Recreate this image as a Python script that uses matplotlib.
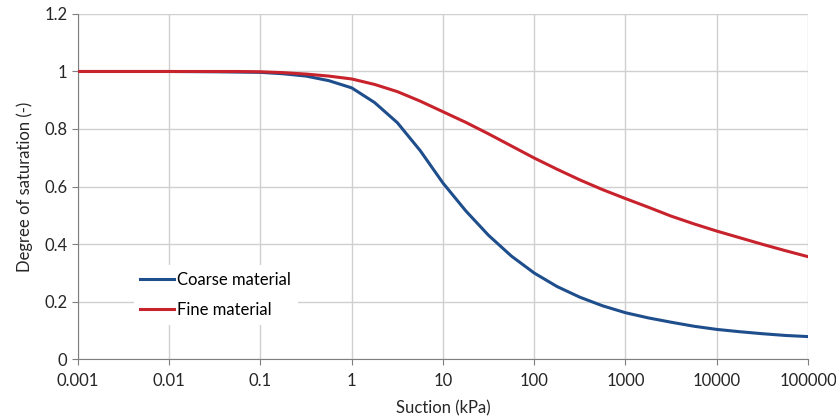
import numpy as np
import matplotlib.pyplot as plt

plt.rcParams["font.family"] = ["Lato", "DejaVu Sans"]

# suction (kPa) and degree of saturation
suction = [0.001, 0.01, 0.0316, 0.0562, 0.1, 0.178, 0.316, 0.562, 1, 1.78, 3.16, 5.62,
           10, 17.8, 31.6, 56.2, 100, 178, 316, 562, 1000, 1778, 3162, 5623,
           10000, 17783, 31623, 56234, 100000]
coarse = [1.0, 1.0, 0.999, 0.998, 0.997, 0.992, 0.984, 0.968, 0.943, 0.892, 0.822, 0.725,
          0.612, 0.515, 0.430, 0.358, 0.299, 0.252, 0.215, 0.185, 0.161, 0.143, 0.128, 0.114,
          0.103, 0.095, 0.088, 0.082, 0.078]
fine = [1.0, 1.0, 1.0, 1.0, 0.999, 0.996, 0.991, 0.984, 0.974, 0.955, 0.930, 0.897,
        0.860, 0.823, 0.783, 0.741, 0.699, 0.660, 0.623, 0.589, 0.558, 0.528, 0.497, 0.470,
        0.445, 0.422, 0.399, 0.377, 0.356]

xticks = [0.001, 0.01, 0.1, 1, 10, 100, 1000, 10000, 100000]
xlabels = ["0.001", "0.01", "0.1", "1", "10", "100", "1000", "10000", "100000"]
yticks = [0, 0.2, 0.4, 0.6, 0.8, 1, 1.2]
ylabels = ["0", "0.2", "0.4", "0.6", "0.8", "1", "1.2"]

fig = plt.figure(figsize=(8.36, 4.2), dpi=100)
ax = fig.add_axes([0.0933, 0.1452, 0.8732, 0.8215])

ax.plot(suction, coarse, color="#1f4e8d", lw=2.2, label="Coarse material", zorder=3)
ax.plot(suction, fine, color="#c8232c", lw=2.2, label="Fine material", zorder=3)

ax.set_xscale("log")
ax.set_xlim(0.001, 100000)
ax.set_ylim(0, 1.2)
ax.set_xticks(xticks)
ax.set_xticklabels(xlabels)
ax.minorticks_off()
ax.set_yticks(yticks)
ax.set_yticklabels(ylabels)

ax.grid(True, color="#d0d0d0", lw=1)
ax.set_axisbelow(True)
for s in ["top", "right"]:
    ax.spines[s].set_visible(False)
for s in ["left", "bottom"]:
    ax.spines[s].set_color("#7f7f7f")
ax.tick_params(axis="both", colors="#7f7f7f", labelcolor="#262626",
               labelsize=12, length=4, direction="out")
ax.tick_params(axis="x", pad=6)

ax.set_xlabel("Suction (kPa)", fontsize=12, color="#262626", labelpad=8)
ax.set_ylabel("Degree of saturation (-)", fontsize=12, color="#262626", labelpad=8)

leg = ax.legend(loc="center left", bbox_to_anchor=(0.065, 0.186), fontsize=12,
                frameon=True, handlelength=2.0, handletextpad=0.2,
                labelspacing=0.85, borderpad=0.4, fancybox=False)
leg.get_frame().set_edgecolor("none")
leg.get_frame().set_facecolor("white")
leg.get_frame().set_alpha(1)

fig.savefig("out.png", dpi=100)
